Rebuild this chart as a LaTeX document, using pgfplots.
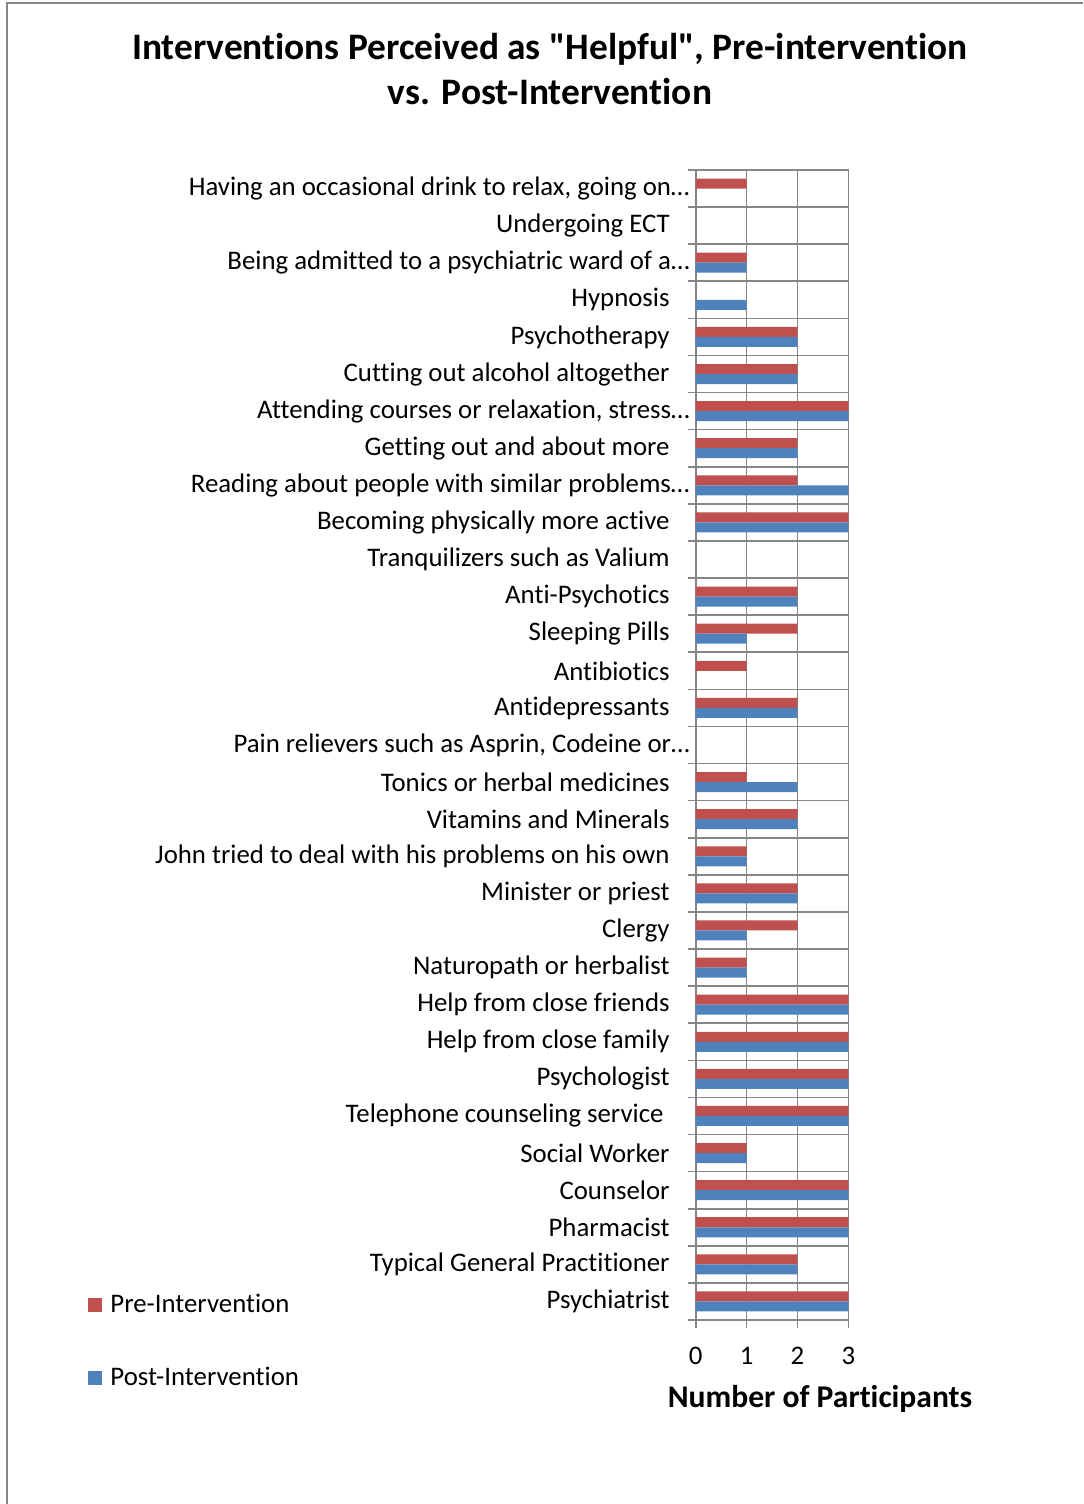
\documentclass[border=0pt]{standalone}
\usepackage{pgfplots}
\pgfplotsset{compat=1.18}
\usepackage{fontspec}
\setmainfont{Carlito}[Ligatures={NoCommon,TeXOff}]
\definecolor{prered}{HTML}{C0504D}
\definecolor{postblue}{HTML}{4F81BD}
\definecolor{gridgray}{HTML}{868686}
\newcommand\pad{\hspace*{10pt}}
\newcommand\lfont{\fontsize{13.4}{16}\selectfont}
\begin{document}
\begin{tikzpicture}[x=1pt,y=1pt]
\useasboundingbox (0,0) rectangle (541.5,752);
\draw[gridgray, line width=0.9pt] (3.5,0) -- (3.5,750.5) -- (541.5,750.5);
\node[anchor=base, font=\bfseries\fontsize{18.7}{22}\selectfont] at (275,722) {Interventions Perceived as "Helpful", Pre-intervention};
\node[anchor=base, font=\bfseries\fontsize{18.7}{22}\selectfont] at (275,699.5) {vs. Post-Intervention};
\begin{axis}[
  at={(347.85pt,92pt)}, anchor=south west,
  scale only axis, width=76.3pt, height=575pt,
  xmin=0, xmax=3, ymin=-0.5, ymax=30.5,
  xbar, bar width=0.27,
  xtick={0,1,2,3},
  ytick={-0.5,0.5,...,30.5}, yticklabels={},
  extra y ticks={0,1,...,30},
  extra y tick style={grid=none, major tick length=0pt},
  extra y tick labels={
    Psychiatrist\pad,
    Typical General Practitioner\pad,
    Pharmacist\pad,
    Counselor\pad,
    Social Worker\pad,
    Telephone counseling service\hspace*{13pt},
    Psychologist\pad,
    Help from close family\pad,
    Help from close friends\pad,
    Naturopath or herbalist\pad,
    Clergy\pad,
    Minister or priest\pad,
    John tried to deal with his problems on his own\pad,
    Vitamins and Minerals\pad,
    Tonics or herbal medicines\pad,
    {Pain relievers such as Asprin, Codeine or…},
    Antidepressants\pad,
    Antibiotics\pad,
    Sleeping Pills\pad,
    Anti-Psychotics\pad,
    Tranquilizers such as Valium\pad,
    Becoming physically more active\pad,
    Reading about people with similar problems…,
    Getting out and about more\pad,
    {Attending courses or relaxation, stress…},
    Cutting out alcohol altogether\pad,
    Psychotherapy\pad,
    Hypnosis\pad,
    Being admitted to a psychiatric ward of a…,
    Undergoing ECT\pad,
    {Having an occasional drink to relax, going on…}
  },
  yticklabel style={font=\lfont, anchor=east, inner sep=0pt, xshift=-2.85pt},
  xticklabel style={font=\lfont, yshift=-6pt},
  /pgf/number format/assume math mode=true,
  grid=major, grid style={color=gridgray, line width=0.8pt},
  axis line style={gridgray, line width=0.8pt},
  tick style={gridgray, line width=0.8pt},
  tick align=outside, major tick length=4pt, tick pos=left,
  xlabel={Number of Participants},
  xlabel style={at={(axis description cs:0.815,-0.0757)}, anchor=base, font=\bfseries\fontsize{15.8}{18}\selectfont},
  legend style={at={(axis description cs:-3.982,0.026)}, anchor=north west, draw=none, fill=none, inner sep=0pt, row sep=21.5pt, font=\lfont, cells={anchor=west}},
  legend image code/.code={\fill[#1] (0pt,-3.5pt) rectangle (7pt,3.5pt); \path (9pt,0pt);},
]
\addplot[fill=prered, draw=none, bar shift=0.135] coordinates {
(3,0) (2,1) (3,2) (3,3) (1,4) (3,5) (3,6) (3,7) (3,8) (1,9) (2,10) (2,11) (1,12) (2,13) (1,14) (0,15) (2,16) (1,17) (2,18) (2,19) (0,20) (3,21) (2,22) (2,23) (3,24) (2,25) (2,26) (0,27) (1,28) (0,29) (1,30)};
\addlegendentry{Pre-Intervention}
\addplot[fill=postblue, draw=none, bar shift=-0.135] coordinates {
(3,0) (2,1) (3,2) (3,3) (1,4) (3,5) (3,6) (3,7) (3,8) (1,9) (1,10) (2,11) (1,12) (2,13) (2,14) (0,15) (2,16) (0,17) (1,18) (2,19) (0,20) (3,21) (3,22) (2,23) (3,24) (2,25) (2,26) (1,27) (1,28) (0,29) (0,30)};
\addlegendentry{Post-Intervention}
\end{axis}
\end{tikzpicture}
\end{document}
